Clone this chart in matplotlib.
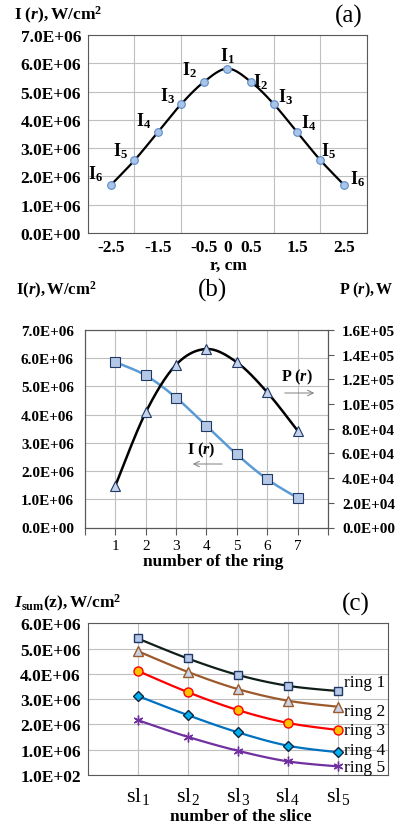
import numpy as np
import matplotlib
matplotlib.use('Agg')
import matplotlib.pyplot as plt
from matplotlib.ticker import FuncFormatter

plt.rcParams['font.family'] = ['Liberation Serif', 'DejaVu Serif']
plt.rcParams['mathtext.fontset'] = 'custom'
plt.rcParams['mathtext.rm'] = 'Liberation Serif'
plt.rcParams['mathtext.it'] = 'Liberation Serif:italic'
plt.rcParams['mathtext.bf'] = 'Liberation Serif:bold'
plt.rcParams['mathtext.bfit'] = 'Liberation Serif:italic:bold'

# (a) intensity profile across radius
r_cm = [-2.5, -2, -1.5, -1, -0.5, 0, 0.5, 1, 1.5, 2, 2.5]
I_r = [1.71e6, 2.57e6, 3.56e6, 4.55e6, 5.35e6, 5.81e6, 5.35e6, 4.55e6, 3.56e6, 2.57e6, 1.71e6]
I_names = ['6', '5', '4', '3', '2', '1', '2', '3', '4', '5', '6']
r_ticks = [-2.5, -1.5, -0.5, 0, 0.5, 1.5, 2.5]

# (b) per ring
ring_no = [1, 2, 3, 4, 5, 6, 7]
I_ring = [5.86e6, 5.39e6, 4.60e6, 3.60e6, 2.59e6, 1.71e6, 1.05e6]
P_ring = [3.39e4, 9.33e4, 1.319e5, 1.446e5, 1.338e5, 1.095e5, 7.84e4]

# (c) per slice
slices = ['sl$_1$', 'sl$_2$', 'sl$_3$', 'sl$_4$', 'sl$_5$']
sum_ring1 = [5.40e6, 4.61e6, 3.96e6, 3.53e6, 3.32e6]
sum_ring2 = [4.90e6, 4.08e6, 3.40e6, 2.94e6, 2.70e6]
sum_ring3 = [4.12e6, 3.28e6, 2.57e6, 2.06e6, 1.78e6]
sum_ring4 = [3.13e6, 2.37e6, 1.69e6, 1.16e6, 0.90e6]
sum_ring5 = [2.17e6, 1.51e6, 0.96e6, 0.54e6, 0.34e6]
ring_names = ['ring 1', 'ring 2', 'ring 3', 'ring 4', 'ring 5']

W, H = 402, 828


def smooth(x, y, n=24):
    # catmull-rom curve through the points, like excel's smoothed line
    x = np.asarray(x, float)
    y = np.asarray(y, float)
    px = np.concatenate([[x[0]], x, [x[-1]]])
    py = np.concatenate([[y[0]], y, [y[-1]]])
    xs, ys = [], []
    t = np.linspace(0, 1, n)
    for i in range(1, len(px) - 2):
        for p, out in ((px, xs), (py, ys)):
            p0, p1, p2, p3 = p[i - 1], p[i], p[i + 1], p[i + 2]
            out.extend(0.5 * (2 * p1 + (-p0 + p2) * t + (2 * p0 - 5 * p1 + 4 * p2 - p3) * t ** 2
                              + (-p0 + 3 * p1 - 3 * p2 + p3) * t ** 3))
    return np.array(xs), np.array(ys)


def ftext(px, py, s, **kw):
    fig.text(px / W, 1 - py / H, s, **kw)


def axbox(left, top, right, bottom):
    return [left / W, 1 - bottom / H, (right - left) / W, (bottom - top) / H]


sci = FuncFormatter(lambda v, p: '{:.1E}'.format(v))
grid_c = '#BFBFBF'
spine_c = '#595959'

fig = plt.figure(figsize=(W / 100, H / 100), dpi=100)

# ---------------- (a)
ax = fig.add_axes(axbox(88, 36, 367, 234))
ax.set_xlim(-3, 3)
ax.set_ylim(0, 7e6)
ax.set_xticks(r_ticks)
ax.set_xticks(np.arange(-3, 3.01, 0.5), minor=True)
ax.set_yticks(np.arange(0, 7.01e6, 1e6))
ax.yaxis.set_major_formatter(sci)
ax.xaxis.set_major_formatter(FuncFormatter(lambda v, p: '{:g}'.format(v)))
ax.grid(True, which='minor', axis='x', color=grid_c, lw=0.8)
ax.grid(True, which='major', axis='y', color=grid_c, lw=0.8)
ax.tick_params(which='both', length=0)
ax.tick_params(axis='y', pad=5, labelsize=12.5)
ax.tick_params(axis='x', pad=4, labelsize=12.5)
for lab in ax.get_xticklabels() + ax.get_yticklabels():
    lab.set_fontweight('bold')
for s in ax.spines.values():
    s.set_color(spine_c)
sx, sy = smooth(r_cm, I_r)
ax.plot(sx, sy, color='black', lw=1.6, zorder=3)
ax.plot(r_cm, I_r, 'o', ms=5.5, mfc='#A9C4E8', mec='#5B8BC9', mew=0.8, zorder=4)
offs = [(-16, 11), (-14, 10), (-14, 12), (-13, 9), (-15, 13), (0, 14),
        (10, 1), (12, 8), (11, 10), (8, 10), (14, 6)]
for x, y, nm, o in zip(r_cm, I_r, I_names, offs):
    ax.annotate(r'$\mathbf{I_{%s}}$' % nm, (x, y), xytext=o, textcoords='offset pixels',
                ha='center', va='center', fontsize=13)
ftext(14, 15, r'$\mathbf{I\ (}\mathbfit{r}\mathbf{),W/cm^2}$', fontsize=12.5, va='center', ha='left')
ftext(349, 16, '(a)', fontsize=18, ha='center', va='center')
ftext(229, 266, 'r, cm', fontsize=12.5, fontweight='bold', ha='center', va='center')

# ---------------- (b)
ax = fig.add_axes(axbox(85, 331, 328, 528.5))
ax.set_xlim(0, 8)
ax.set_ylim(0, 7e6)
ax.set_xticks(range(0, 9))
ax.set_xticklabels([''] + [str(n) for n in ring_no] + [''])
ax.set_yticks(np.arange(0, 7.01e6, 1e6))
ax.yaxis.set_major_formatter(sci)
ax.grid(True, color=grid_c, lw=0.8)
ax.tick_params(axis='y', length=0, pad=8, labelsize=11)
ax.tick_params(axis='x', length=5, color=spine_c, pad=3, labelsize=11)
for lab in ax.get_yticklabels():
    lab.set_fontweight('bold')
for s in ax.spines.values():
    s.set_color(spine_c)
sx, sy = smooth(ring_no, I_ring)
ax.plot(sx, sy, color='#5B9BD5', lw=1.8, zorder=3)
ax.plot(ring_no, I_ring, 's', ms=6.5, mfc='#B4C7E7', mec='#1F3864', mew=0.8, zorder=4)

ax2 = ax.twinx()
ax2.set_ylim(0, 1.6e5)
ax2.set_yticks(np.arange(0, 1.61e5, 2e4))
ax2.yaxis.set_major_formatter(sci)
ax2.tick_params(axis='y', length=4, color=spine_c, pad=6, labelsize=11)
for lab in ax2.get_yticklabels():
    lab.set_fontweight('bold')
for s in ax2.spines.values():
    s.set_color(spine_c)
sx, sy = smooth(ring_no, P_ring)
ax2.plot(sx, sy, color='black', lw=1.8, zorder=3)
ax2.plot(ring_no, P_ring, '^', ms=7, mfc='#C5D3EA', mec='#1F3864', mew=0.8, zorder=4)

ftext(16, 290, r'$\mathbf{I(}\mathbfit{r}\mathbf{),W/cm^2}$', fontsize=12, va='center', ha='left')
ftext(213, 290, '(b)', fontsize=18, ha='center', va='center')
ftext(339, 290, r'$\mathbf{P\ (}\mathbfit{r}\mathbf{),W}$', fontsize=11.5, va='center', ha='left')
ftext(297, 377, r'$\mathbf{P\ (}\mathbfit{r}\mathbf{)}$', fontsize=11.5, va='center', ha='center')
ftext(201, 450, r'$\mathbf{I\ (}\mathbfit{r}\mathbf{)}$', fontsize=11.5, va='center', ha='center')
ax.annotate('', xy=(317 / W, 1 - 394 / H), xytext=(282 / W, 1 - 394 / H),
            xycoords='figure fraction', textcoords='figure fraction',
            arrowprops=dict(arrowstyle='->', color='#7F7F7F', lw=0.7))
ax.annotate('', xy=(190 / W, 1 - 465 / H), xytext=(225 / W, 1 - 465 / H),
            xycoords='figure fraction', textcoords='figure fraction',
            arrowprops=dict(arrowstyle='->', color='#7F7F7F', lw=0.7))
ftext(213, 562, 'number of the ring', fontsize=12.5, fontweight='bold', ha='center', va='center')

# ---------------- (c)
ax = fig.add_axes(axbox(87.7, 624.3, 387.7, 776))
ax.set_xlim(0, 6)
ax.set_ylim(0, 6e6)
xs = np.arange(1, len(slices) + 1)
ax.set_xticks(xs)
ax.set_xticklabels(slices)
yt = np.arange(0, 6.01e6, 1e6)
ax.set_yticks(yt)
ax.set_yticklabels(['1.0E+02'] + ['{:.1E}'.format(v) for v in yt[1:]])
ax.grid(True, color=grid_c, lw=0.8)
ax.tick_params(length=0)
ax.tick_params(axis='y', pad=5, labelsize=12.5)
ax.tick_params(axis='x', pad=7, labelsize=16)
for lab in ax.get_yticklabels():
    lab.set_fontweight('bold')
for s in ax.spines.values():
    s.set_color(spine_c)

series = [
    (sum_ring1, '#0F1F17', 's', '#B4C7E7', '#203864', 6),
    (sum_ring2, '#9C5A2C', '^', '#C9D3E8', '#9C5A2C', 7),
    (sum_ring3, '#FF0000', 'o', '#FFC000', '#FF0000', 6.5),
    (sum_ring4, '#0070C0', 'D', '#00B0F0', '#10253F', 5.5),
    (sum_ring5, '#7030A0', (6, 2, 0), '#7030A0', '#7030A0', 7),
]
for vals, lc, mk, fc, ec, ms in series:
    sx, sy = smooth(xs, vals)
    ax.plot(sx, sy, color=lc, lw=1.6, zorder=3)
    ax.plot(xs, vals, linestyle='none', marker=mk, ms=ms, mfc=fc, mec=ec, mew=1.0, zorder=4)

label_y = [683, 711.7, 731, 751, 768]
for nm, py in zip(ring_names, label_y):
    ftext(344, py, nm, fontsize=12.5, ha='left', va='center')

ftext(14, 603, r'$\mathbfit{I}_{\mathbf{sum}}\mathbf{(z),W/cm^2}$', fontsize=12.5, va='center', ha='left')
ftext(356, 604, '(c)', fontsize=18, ha='center', va='center')
ftext(241, 817, 'number of the slice', fontsize=12.5, fontweight='bold', ha='center', va='center')

fig.savefig('out.png', dpi=100)
